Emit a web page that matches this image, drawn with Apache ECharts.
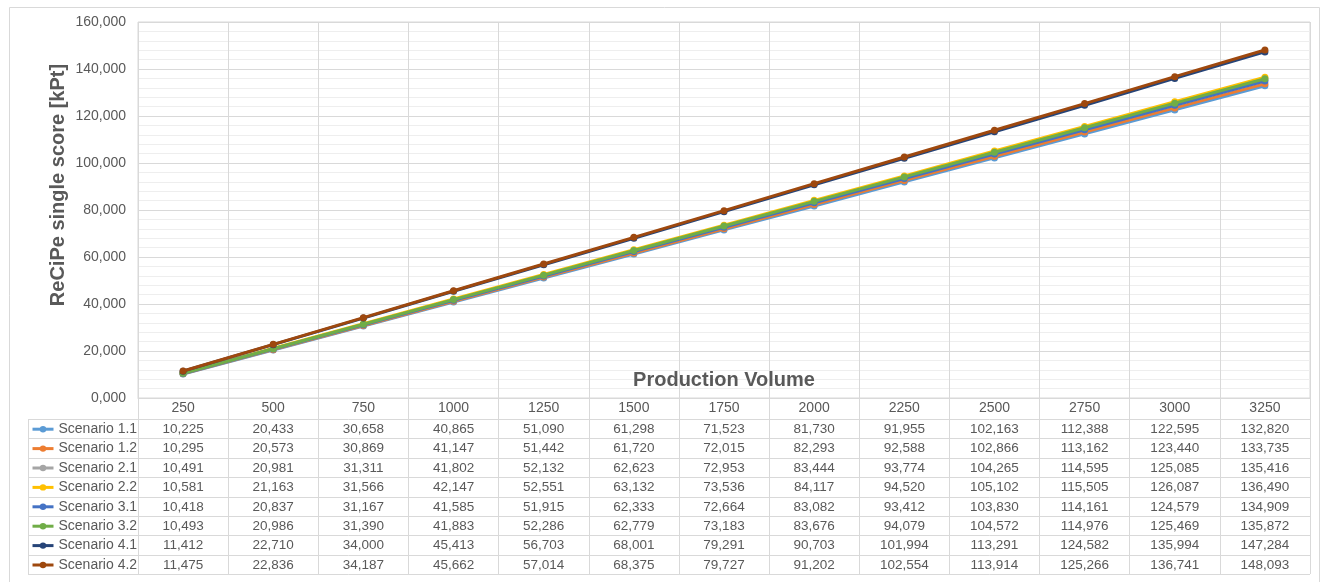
<!DOCTYPE html>
<html>
<head>
<meta charset="utf-8">
<title>ReCiPe single score vs production volume</title>
<script src="https://cdn.jsdelivr.net/npm/echarts@6/dist/echarts.min.js"></script>
<style>
  html, body { margin: 0; padding: 0; background: #ffffff; }
  #chart { width: 1322px; height: 582px; }
</style>
</head>
<body>
<div id="chart"></div>
<script>
// Production volumes (x categories)
const categories = ['250', '500', '750', '1000', '1250', '1500', '1750', '2000', '2250', '2500', '2750', '3000', '3250'];

// ReCiPe single score per scenario [kPt]
const scenario11 = [10.225, 20.433, 30.658, 40.865, 51.090, 61.298, 71.523, 81.730, 91.955, 102.163, 112.388, 122.595, 132.820];
const scenario12 = [10.295, 20.573, 30.869, 41.147, 51.442, 61.720, 72.015, 82.293, 92.588, 102.866, 113.162, 123.440, 133.735];
const scenario21 = [10.491, 20.981, 31.311, 41.802, 52.132, 62.623, 72.953, 83.444, 93.774, 104.265, 114.595, 125.085, 135.416];
const scenario22 = [10.581, 21.163, 31.566, 42.147, 52.551, 63.132, 73.536, 84.117, 94.520, 105.102, 115.505, 126.087, 136.490];
const scenario31 = [10.418, 20.837, 31.167, 41.585, 51.915, 62.333, 72.664, 83.082, 93.412, 103.830, 114.161, 124.579, 134.909];
const scenario32 = [10.493, 20.986, 31.390, 41.883, 52.286, 62.779, 73.183, 83.676, 94.079, 104.572, 114.976, 125.469, 135.872];
const scenario41 = [11.412, 22.710, 34.000, 45.413, 56.703, 68.001, 79.291, 90.703, 101.994, 113.291, 124.582, 135.994, 147.284];
const scenario42 = [11.475, 22.836, 34.187, 45.662, 57.014, 68.375, 79.727, 91.202, 102.554, 113.914, 125.266, 136.741, 148.093];

const seriesNames = ['Scenario 1.1', 'Scenario 1.2', 'Scenario 2.1', 'Scenario 2.2', 'Scenario 3.1', 'Scenario 3.2', 'Scenario 4.1', 'Scenario 4.2'];
const seriesValues = [scenario11, scenario12, scenario21, scenario22, scenario31, scenario32, scenario41, scenario42];
const seriesColors = ['#5B9BD5', '#ED7D31', '#A5A5A5', '#FFC000', '#4472C4', '#70AD47', '#264478', '#9E480E'];

// Value axis range
const yMin = 0, yMax = 160, yStep = 20;

// Layout
const FONT = "'Liberation Sans', Arial, sans-serif";
const TEXT = '#595959';
const GRID_LINE = '#d9d9d9';
const PLOT_LEFT = 138, PLOT_RIGHT = 1310, PLOT_TOP = 22, AXIS_Y = 398;
const TABLE_LEFT = 28, ROW_TOP = 419, ROW_H = 19.4;
const LEGEND_PAD = 5;

// Number format with three decimals and a decimal comma
const fmt = v => Number(v).toFixed(3).replace('.', ',');

const rowLineY = [];
for (let i = 0; i <= seriesNames.length; i++) rowLineY.push(Math.round(ROW_TOP + i * ROW_H));
const TABLE_BOTTOM = rowLineY[rowLineY.length - 1];

const chart = echarts.init(document.getElementById('chart'), null, { renderer: 'canvas' });

// Data table rows: one extra category axis per scenario, stacked below the plot
const tableAxes = seriesValues.map((vals, i) => ({
  type: 'category',
  gridIndex: 0,
  position: 'bottom',
  offset: rowLineY[i] - AXIS_Y,
  data: vals.map(fmt),
  boundaryGap: true,
  axisLine: { show: false },
  axisTick: { show: false },
  splitLine: { show: false },
  axisLabel: { interval: 0, margin: 3, fontSize: 13.5, color: TEXT, fontFamily: FONT }
}));

// Table borders
const tableLines = rowLineY.map(y => ({
  type: 'line',
  shape: { x1: TABLE_LEFT, y1: y + 0.5, x2: PLOT_RIGHT, y2: y + 0.5 },
  style: { stroke: GRID_LINE, lineWidth: 1 },
  silent: true
}));
tableLines.push({
  type: 'line',
  shape: { x1: TABLE_LEFT + 0.5, y1: rowLineY[0], x2: TABLE_LEFT + 0.5, y2: TABLE_BOTTOM + 1 },
  style: { stroke: GRID_LINE, lineWidth: 1 },
  silent: true
});

const option = {
  animation: false,
  backgroundColor: '#ffffff',
  textStyle: { fontFamily: FONT },
  grid: {
    left: PLOT_LEFT, right: 1322 - PLOT_RIGHT, top: PLOT_TOP, bottom: 582 - AXIS_Y,
    show: true, borderColor: GRID_LINE, borderWidth: 1, backgroundColor: 'transparent'
  },
  legend: {
    data: seriesNames,
    orient: 'vertical',
    left: 31 - LEGEND_PAD,
    top: ROW_TOP + ROW_H / 2 - 7 - LEGEND_PAD + 0.5,
    padding: LEGEND_PAD,
    itemWidth: 21,
    itemHeight: 8,
    itemGap: ROW_H - 14,
    selectedMode: false,
    lineStyle: { width: 3 },
    textStyle: { fontSize: 14, color: TEXT, fontFamily: FONT, lineHeight: 14 }
  },
  xAxis: [{
    type: 'category',
    data: categories,
    boundaryGap: true,
    name: 'Production Volume',
    nameLocation: 'middle',
    nameGap: -28,
    nameTextStyle: { fontSize: 20, fontWeight: 'bold', color: TEXT, fontFamily: FONT },
    axisLine: { show: true, lineStyle: { color: GRID_LINE, width: 1 } },
    axisTick: { show: true, interval: 0, inside: false, length: TABLE_BOTTOM - AXIS_Y, lineStyle: { color: GRID_LINE, width: 1 } },
    splitLine: { show: true, interval: 0, lineStyle: { color: GRID_LINE, width: 1 } },
    axisLabel: { interval: 0, margin: 3, fontSize: 14, color: TEXT, fontFamily: FONT }
  }].concat(tableAxes),
  yAxis: {
    type: 'value',
    min: yMin, max: yMax, interval: yStep,
    axisLine: { show: false },
    axisTick: { show: false },
    axisLabel: { formatter: fmt, fontSize: 14, color: TEXT, fontFamily: FONT, margin: 12 },
    splitLine: { show: true, lineStyle: { color: GRID_LINE, width: 1 } },
    minorTick: { show: false, splitNumber: 5 },
    minorSplitLine: { show: true, lineStyle: { color: '#eeeeee', width: 1 } }
  },
  series: seriesNames.map((name, i) => ({
    name: name,
    type: 'line',
    xAxisIndex: 0,
    data: seriesValues[i],
    symbol: 'circle',
    symbolSize: 7,
    showSymbol: true,
    color: seriesColors[i],
    lineStyle: { width: 3, color: seriesColors[i] },
    itemStyle: { color: seriesColors[i] },
    z: 10 + i
  })),
  graphic: [
    {
      type: 'rect',
      shape: { x: 9.5, y: 7.5, width: 1310, height: 590 },
      style: { fill: 'none', stroke: GRID_LINE, lineWidth: 1 },
      silent: true, z: -10
    },
    {
      type: 'text',
      x: 58, y: 185,
      rotation: Math.PI / 2,
      style: {
        text: 'ReCiPe single score [kPt]',
        font: 'bold 20px ' + FONT,
        fill: TEXT,
        align: 'center',
        verticalAlign: 'middle'
      },
      silent: true
    }
  ].concat(tableLines)
};

chart.setOption(option);
</script>
</body>
</html>
